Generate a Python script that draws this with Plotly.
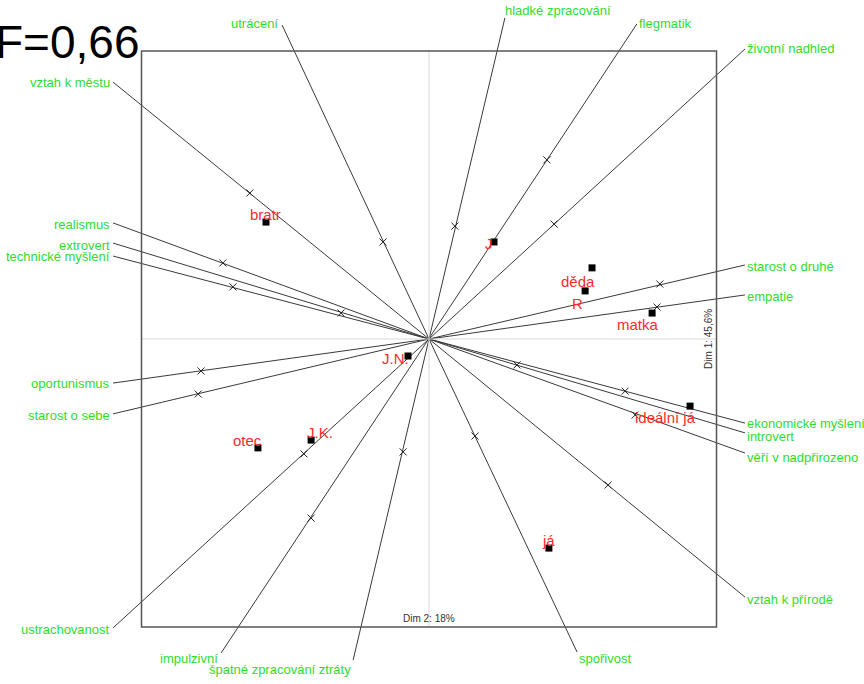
import plotly.graph_objects as go

# konstrukty: levy pol / pravy pol
pole_a = ["vztah k městu", "utrácení", "hladké zpracování", "flegmatik", "životní nadhled",
          "starost o druhé", "empatie", "realismus", "extrovert", "technické myšlení"]
pole_b = ["vztah k přírodě", "spořivost", "špatné zpracování ztráty", "impulzivní", "ustrachovanost",
          "starost o sebe", "oportunismus", "věří v nadpřirozeno", "introvert", "ekonomické myšlení"]

# konce car (souradnice biplotu, ramecek = +-1)
end_a_x = [-1.099, -0.511, 0.264, 0.723, 1.099, 1.099, 1.099, -1.099, -1.099, -1.099]
end_a_y = [0.892, 1.090, 1.115, 1.094, 1.007, 0.257, 0.153, 0.403, 0.333, 0.288]
end_b_x = [1.099, 0.515, -0.264, -0.723, -1.099, -1.099, -1.099, 1.099, 1.099, 1.099]
end_b_y = [-0.896, -1.087, -1.115, -1.090, -1.003, -0.260, -0.153, -0.396, -0.326, -0.292]

# popisky polu
lab_a_x = [-1.103, -0.518, 0.257, 0.723, 1.099, 1.099, 1.099, -1.103, -1.103, -1.103]
lab_a_y = [0.892, 1.097, 1.139, 1.094, 1.007, 0.253, 0.149, 0.396, 0.326, 0.285]
lab_b_x = [1.099, 0.515, -0.264, -0.727, -1.103, -1.103, -1.103, 1.099, 1.099, 1.099]
lab_b_y = [-0.903, -1.108, -1.149, -1.108, -1.010, -0.264, -0.156, -0.410, -0.337, -0.295]

# znacky konstruktu (x)
mark_x = [-0.623, -0.160, 0.090, 0.410, 0.435, 0.803, 0.793, -0.717, -0.306, -0.682]
mark_y = [0.507, 0.337, 0.392, 0.622, 0.399, 0.191, 0.111, 0.264, 0.090, 0.181]

# elementy
elements = ["bratr", "J", "děda", "R", "matka", "ideální já", "J.N.", "J.K.", "otec", "já"]
elem_x = [-0.567, 0.226, 0.567, 0.543, 0.776, 0.908, -0.073, -0.410, -0.595, 0.417]
elem_y = [0.406, 0.337, 0.247, 0.167, 0.090, -0.233, -0.059, -0.351, -0.378, -0.726]
elem_lab_x = [-0.570, 0.209, 0.518, 0.518, 0.727, 0.821, -0.115, -0.379, -0.630, 0.414]
elem_lab_y = [0.434, 0.333, 0.201, 0.125, 0.049, -0.271, -0.066, -0.326, -0.354, -0.701]

GREEN = "#2fdc2f"
RED = "#ff2a2a"
FONT = "Liberation Sans, Arial, sans-serif"

fig = go.Figure()

# osy
fig.add_shape(type="line", x0=0, x1=0, y0=-1, y1=1, line=dict(color="#d8d8d8", width=1))
fig.add_shape(type="line", x0=-1, x1=1, y0=0, y1=0, line=dict(color="#d8d8d8", width=1))
fig.add_shape(type="rect", x0=-1, x1=1, y0=-1, y1=1, line=dict(color="#555555", width=1.5))

# cary konstruktu
lx, ly = [], []
for i in range(len(pole_a)):
    lx += [end_a_x[i], 0, end_b_x[i], None]
    ly += [end_a_y[i], 0, end_b_y[i], None]
fig.add_trace(go.Scatter(x=lx, y=ly, mode="lines", line=dict(color="#3a3a3a", width=1),
                         hoverinfo="skip", showlegend=False))

fig.add_trace(go.Scatter(x=mark_x + [-v for v in mark_x], y=mark_y + [-v for v in mark_y],
                         mode="markers", showlegend=False,
                         marker=dict(symbol="x-thin", size=7, line=dict(color="#222222", width=1))))

# elementy
fig.add_trace(go.Scatter(x=elem_x, y=elem_y, mode="markers", showlegend=False,
                         marker=dict(symbol="square", size=7, color="black")))

for i, name in enumerate(elements):
    fig.add_annotation(x=elem_lab_x[i], y=elem_lab_y[i], text=name, showarrow=False,
                       font=dict(family=FONT, size=15, color=RED))

for i in range(len(pole_a)):
    fig.add_annotation(x=lab_a_x[i], y=lab_a_y[i], text=pole_a[i], showarrow=False,
                       xanchor="right" if lab_a_x[i] < 0 else "left",
                       font=dict(family=FONT, size=13, color=GREEN))
    fig.add_annotation(x=lab_b_x[i], y=lab_b_y[i], text=pole_b[i], showarrow=False,
                       xanchor="right" if lab_b_x[i] < 0 else "left",
                       font=dict(family=FONT, size=13, color=GREEN))

fig.add_annotation(x=0.97, y=0, text="Dim 1: 45,6%", textangle=-90, showarrow=False,
                   font=dict(family=FONT, size=10, color="#333333"))
fig.add_annotation(x=0, y=-0.97, text="Dim 2: 18%", showarrow=False,
                   font=dict(family=FONT, size=10, color="#333333"))

fig.add_annotation(x=-1, y=1.03, text="F=0,66", showarrow=False, xanchor="right",
                   font=dict(family=FONT, size=46, color="black"))

fig.update_layout(
    width=864, height=684,
    margin=dict(l=0, r=0, t=0, b=0),
    plot_bgcolor="white", paper_bgcolor="white",
    xaxis=dict(range=[-1.4922, 1.5130], visible=False, fixedrange=True),
    yaxis=dict(range=[-1.1979, 1.1771], visible=False, fixedrange=True),
)

# bez okraje stranky, graf zacina v rohu okna
fig.write_html("out.html", config={"displayModeBar": False},
               post_script="document.body.style.margin='0px';")
